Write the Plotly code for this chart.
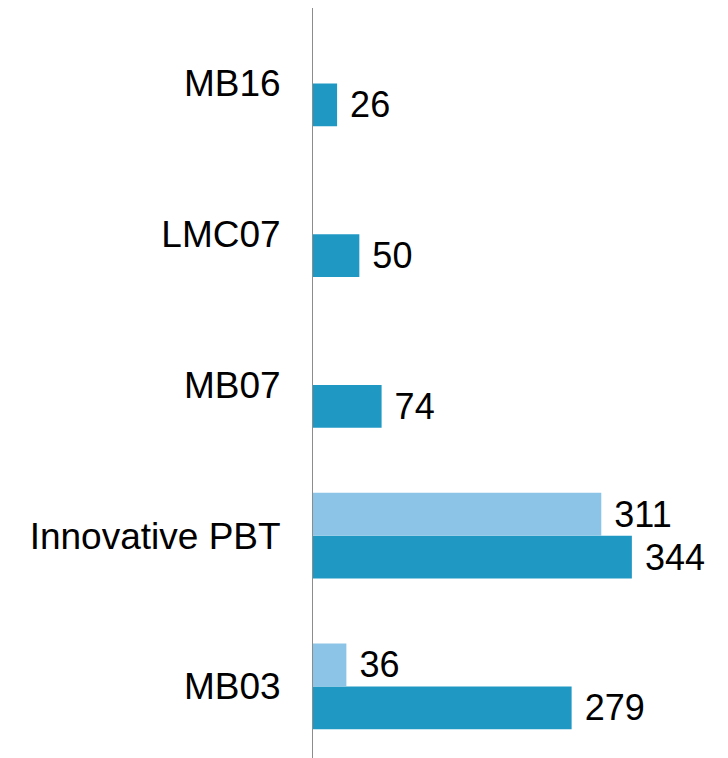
import plotly.graph_objects as go

categories = ["MB03", "Innovative PBT", "MB07", "LMC07", "MB16"]
dark_values = [279, 344, 74, 50, 26]
light_values = [36, 311, None, None, None]

dark_color = "#2098C4"
light_color = "#8BC4E6"
font_family = "Liberation Sans, Arial, sans-serif"

fig = go.Figure()
fig.add_trace(go.Bar(
    y=categories, x=dark_values, orientation="h",
    marker=dict(color=dark_color, line=dict(width=0)),
    texttemplate="\u00a0%{x}", textposition="outside",
    textfont=dict(size=36, color="black", family=font_family),
    cliponaxis=False, constraintext="none", showlegend=False,
))
fig.add_trace(go.Bar(
    y=categories, x=light_values, orientation="h",
    marker=dict(color=light_color, line=dict(width=0)),
    texttemplate="\u00a0%{x}", textposition="outside",
    textfont=dict(size=36, color="black", family=font_family),
    cliponaxis=False, constraintext="none", showlegend=False,
))

fig.update_layout(
    width=720, height=750,
    margin=dict(l=305, r=0, t=0, b=0),
    barmode="group", bargap=0.43, bargroupgap=0,
    plot_bgcolor="white", paper_bgcolor="white",
    font=dict(family=font_family, size=37, color="black"),
    xaxis=dict(range=[0, 447.7], visible=False, showgrid=False, zeroline=False),
    yaxis=dict(
        categoryorder="array", categoryarray=categories,
        range=[-0.475, 4.5],
        showline=True, linecolor="#8c8c8c", linewidth=1,
        showgrid=False, zeroline=False, ticks="",
        tickfont=dict(size=37, color="black", family=font_family),
        ticklabelstandoff=24,
    ),
)

fig.write_html("out.html")
